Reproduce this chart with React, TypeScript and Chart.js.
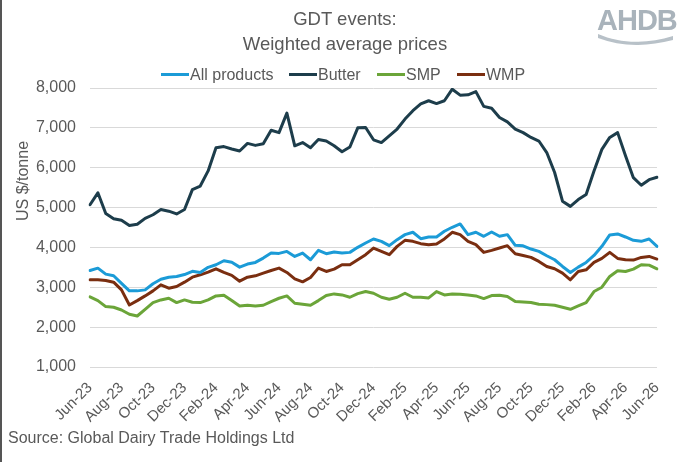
import React, { useEffect, useRef } from "react";
import { Chart, registerables } from "chart.js";

Chart.register(...registerables);

const FONT = '"Liberation Sans", Arial, sans-serif';
const GREY = "#595959";

// Months covered by the GDT events (two events per month)
const months = [
  "Jun-23", "Jul-23", "Aug-23", "Sep-23", "Oct-23", "Nov-23", "Dec-23",
  "Jan-24", "Feb-24", "Mar-24", "Apr-24", "May-24", "Jun-24", "Jul-24", "Aug-24", "Sep-24", "Oct-24", "Nov-24", "Dec-24",
  "Jan-25", "Feb-25", "Mar-25", "Apr-25", "May-25", "Jun-25", "Jul-25", "Aug-25", "Sep-25", "Oct-25", "Nov-25", "Dec-25",
  "Jan-26", "Feb-26", "Mar-26", "Apr-26", "May-26", "Jun-26",
];
const categories = months.flatMap((m, i) => (i < months.length - 1 ? [m, m] : [m]));

const yTicks = [1000, 2000, 3000, 4000, 5000, 6000, 7000, 8000];

const seriesNames = ["All products", "Butter", "SMP", "WMP"];
const seriesColors = ["#1B9BD7", "#1D3D4B", "#6BA539", "#7A2E10"];

const allProducts = [
  3420, 3480, 3330, 3290, 3100, 2910, 2910, 2935, 3090, 3200,
  3250, 3270, 3320, 3400, 3370, 3500, 3565, 3665, 3630, 3506,
  3582, 3624, 3733, 3859, 3850, 3900, 3775, 3859, 3691, 3926,
  3842, 3884, 3859, 3876, 4002, 4111, 4212, 4153, 4044, 4195,
  4321, 4380, 4220, 4262, 4262, 4405, 4506, 4590, 4321, 4380,
  4279, 4388, 4279, 4321, 4052, 4040, 3960, 3901, 3792, 3691,
  3523, 3372, 3506, 3624, 3800, 4027, 4313, 4338, 4262, 4178,
  4153, 4212, 4027,
];

const butter = [
  5070, 5370, 4850, 4720, 4680, 4550, 4580, 4730, 4820, 4950,
  4910, 4840, 4950, 5450, 5540, 5920, 6500, 6530, 6470, 6420,
  6610, 6560, 6600, 6940, 6880, 7370, 6550, 6630, 6500, 6710,
  6670, 6550, 6400, 6520, 7000, 7010, 6700, 6630, 6800, 6970,
  7220, 7430, 7600, 7680, 7610, 7680, 7970, 7820, 7830, 7910,
  7540, 7490, 7260, 7150, 6970, 6880, 6760, 6670, 6380, 5880,
  5160, 5030, 5200, 5330, 5920, 6460, 6760, 6880, 6300, 5750,
  5560, 5700, 5760,
];

const smp = [
  2758, 2666, 2515, 2498, 2431, 2322, 2280, 2448, 2616, 2683,
  2725, 2616, 2683, 2624, 2616, 2683, 2784, 2800, 2670, 2532,
  2549, 2532, 2549, 2641, 2725, 2784, 2599, 2574, 2549, 2666,
  2792, 2834, 2809, 2750, 2842, 2893, 2851, 2750, 2700, 2750,
  2851, 2750, 2750, 2733, 2893, 2809, 2834, 2826, 2809, 2784,
  2716, 2792, 2800, 2767, 2641, 2633, 2616, 2574, 2565, 2549,
  2498, 2448, 2532, 2616, 2893, 3002, 3271, 3414, 3397, 3456,
  3565, 3556, 3464,
];

const wmp = [
  3187, 3187, 3170, 3128, 2935, 2557, 2666, 2784, 2910, 3061,
  2977, 3019, 3128, 3254, 3313, 3380, 3464, 3372, 3300, 3153,
  3254, 3288, 3355, 3422, 3481, 3372, 3212, 3136, 3246, 3481,
  3397, 3456, 3565, 3565, 3691, 3817, 3985, 3901, 3817, 4027,
  4178, 4153, 4094, 4069, 4086, 4212, 4380, 4321, 4153, 4069,
  3876, 3926, 3985, 4044, 3842, 3796, 3750, 3649, 3523, 3464,
  3355, 3187, 3397, 3439, 3624, 3724, 3876, 3724, 3691, 3682,
  3750, 3775, 3708,
];

const seriesValues = [allProducts, butter, smp, wmp];

const legendX = [161, 289, 377, 457];

export default function App() {
  const ref = useRef<HTMLCanvasElement>(null);

  useEffect(() => {
    if (!ref.current) return;
    const chart = new Chart(ref.current, {
      type: "line",
      data: {
        labels: categories,
        datasets: seriesNames.map((name, i) => ({
          label: name,
          data: seriesValues[i],
          borderColor: seriesColors[i],
          backgroundColor: seriesColors[i],
          borderWidth: 3,
          pointRadius: 0,
          tension: 0,
          borderJoinStyle: "round" as const,
          borderCapStyle: "round" as const,
          fill: false,
        })),
      },
      options: {
        responsive: false,
        animation: false,
        layout: { padding: { left: 0, right: 24, top: 88, bottom: 35 } },
        plugins: {
          legend: { display: false },
          title: { display: false },
          tooltip: { enabled: false },
        },
        scales: {
          x: {
            type: "category",
            grid: { display: false },
            border: { display: false },
            ticks: {
              autoSkip: false,
              maxRotation: 45,
              minRotation: 45,
              padding: 4,
              color: GREY,
              font: { family: FONT, size: 15 },
              callback: (_v: any, i: number) => (i % 4 === 0 ? categories[i] : null),
            },
            afterFit: (s: any) => {
              s.height = 60;
            },
          },
          y: {
            min: yTicks[0],
            max: yTicks[yTicks.length - 1],
            afterBuildTicks: (s: any) => {
              s.ticks = yTicks.map((v) => ({ value: v }));
            },
            ticks: {
              padding: 14,
              color: GREY,
              font: { family: FONT, size: 16 },
              callback: (v: any) => Number(v).toLocaleString("en-US"),
            },
            grid: { color: "#d9d9d9", drawTicks: false, lineWidth: 1 },
            border: { display: false },
            afterFit: (s: any) => {
              s.width = 90;
            },
          },
        },
      },
    });
    return () => chart.destroy();
  }, []);

  return (
    <div
      style={{
        position: "fixed",
        left: 0,
        top: 0,
        width: 681,
        height: 462,
        background: "#fff",
        overflow: "hidden",
        fontFamily: FONT,
        color: GREY,
      }}
    >
      <canvas ref={ref} width={681} height={462} style={{ position: "absolute", left: 0, top: 0 }} />
      <div style={{ position: "absolute", left: 0, top: 0, width: 2, height: 462, background: "#555" }} />
      <div
        style={{
          position: "absolute",
          left: 0,
          top: 6,
          width: 690,
          textAlign: "center",
          fontSize: 18.5,
          lineHeight: "25px",
        }}
      >
        <div>GDT events:</div>
        <div>Weighted average prices</div>
      </div>
      {seriesNames.map((name, i) => (
        <React.Fragment key={name}>
          <div
            style={{
              position: "absolute",
              left: legendX[i],
              top: 73,
              width: 28,
              height: 3,
              background: seriesColors[i],
            }}
          />
          <div
            style={{
              position: "absolute",
              left: legendX[i] + 29,
              top: 65.5,
              fontSize: 16,
              lineHeight: "18px",
              whiteSpace: "nowrap",
            }}
          >
            {name}
          </div>
        </React.Fragment>
      ))}
      <div
        style={{
          position: "absolute",
          left: 23 - 60,
          top: 181 - 10,
          width: 120,
          height: 20,
          lineHeight: "20px",
          textAlign: "center",
          fontSize: 16,
          transform: "rotate(-90deg)",
          whiteSpace: "nowrap",
        }}
      >
        US $/tonne
      </div>
      <div style={{ position: "absolute", left: 8, top: 429, fontSize: 16, lineHeight: "18px", whiteSpace: "nowrap" }}>
        Source: Global Dairy Trade Holdings Ltd
      </div>
      <div
        style={{
          position: "absolute",
          left: 597,
          top: 5,
          fontSize: 29,
          fontWeight: "bold",
          color: "#a9b3bb",
          letterSpacing: -1,
          lineHeight: "30px",
          whiteSpace: "nowrap",
        }}
      >
        AHDB
      </div>
      <svg style={{ position: "absolute", left: 596, top: 30 }} width={80} height={16}>
        <path d="M2 4 C 25 14, 50 14, 77 6 L 77 10 C 50 17, 25 17, 2 8 Z" fill="#b8c1c8" />
      </svg>
    </div>
  );
}
